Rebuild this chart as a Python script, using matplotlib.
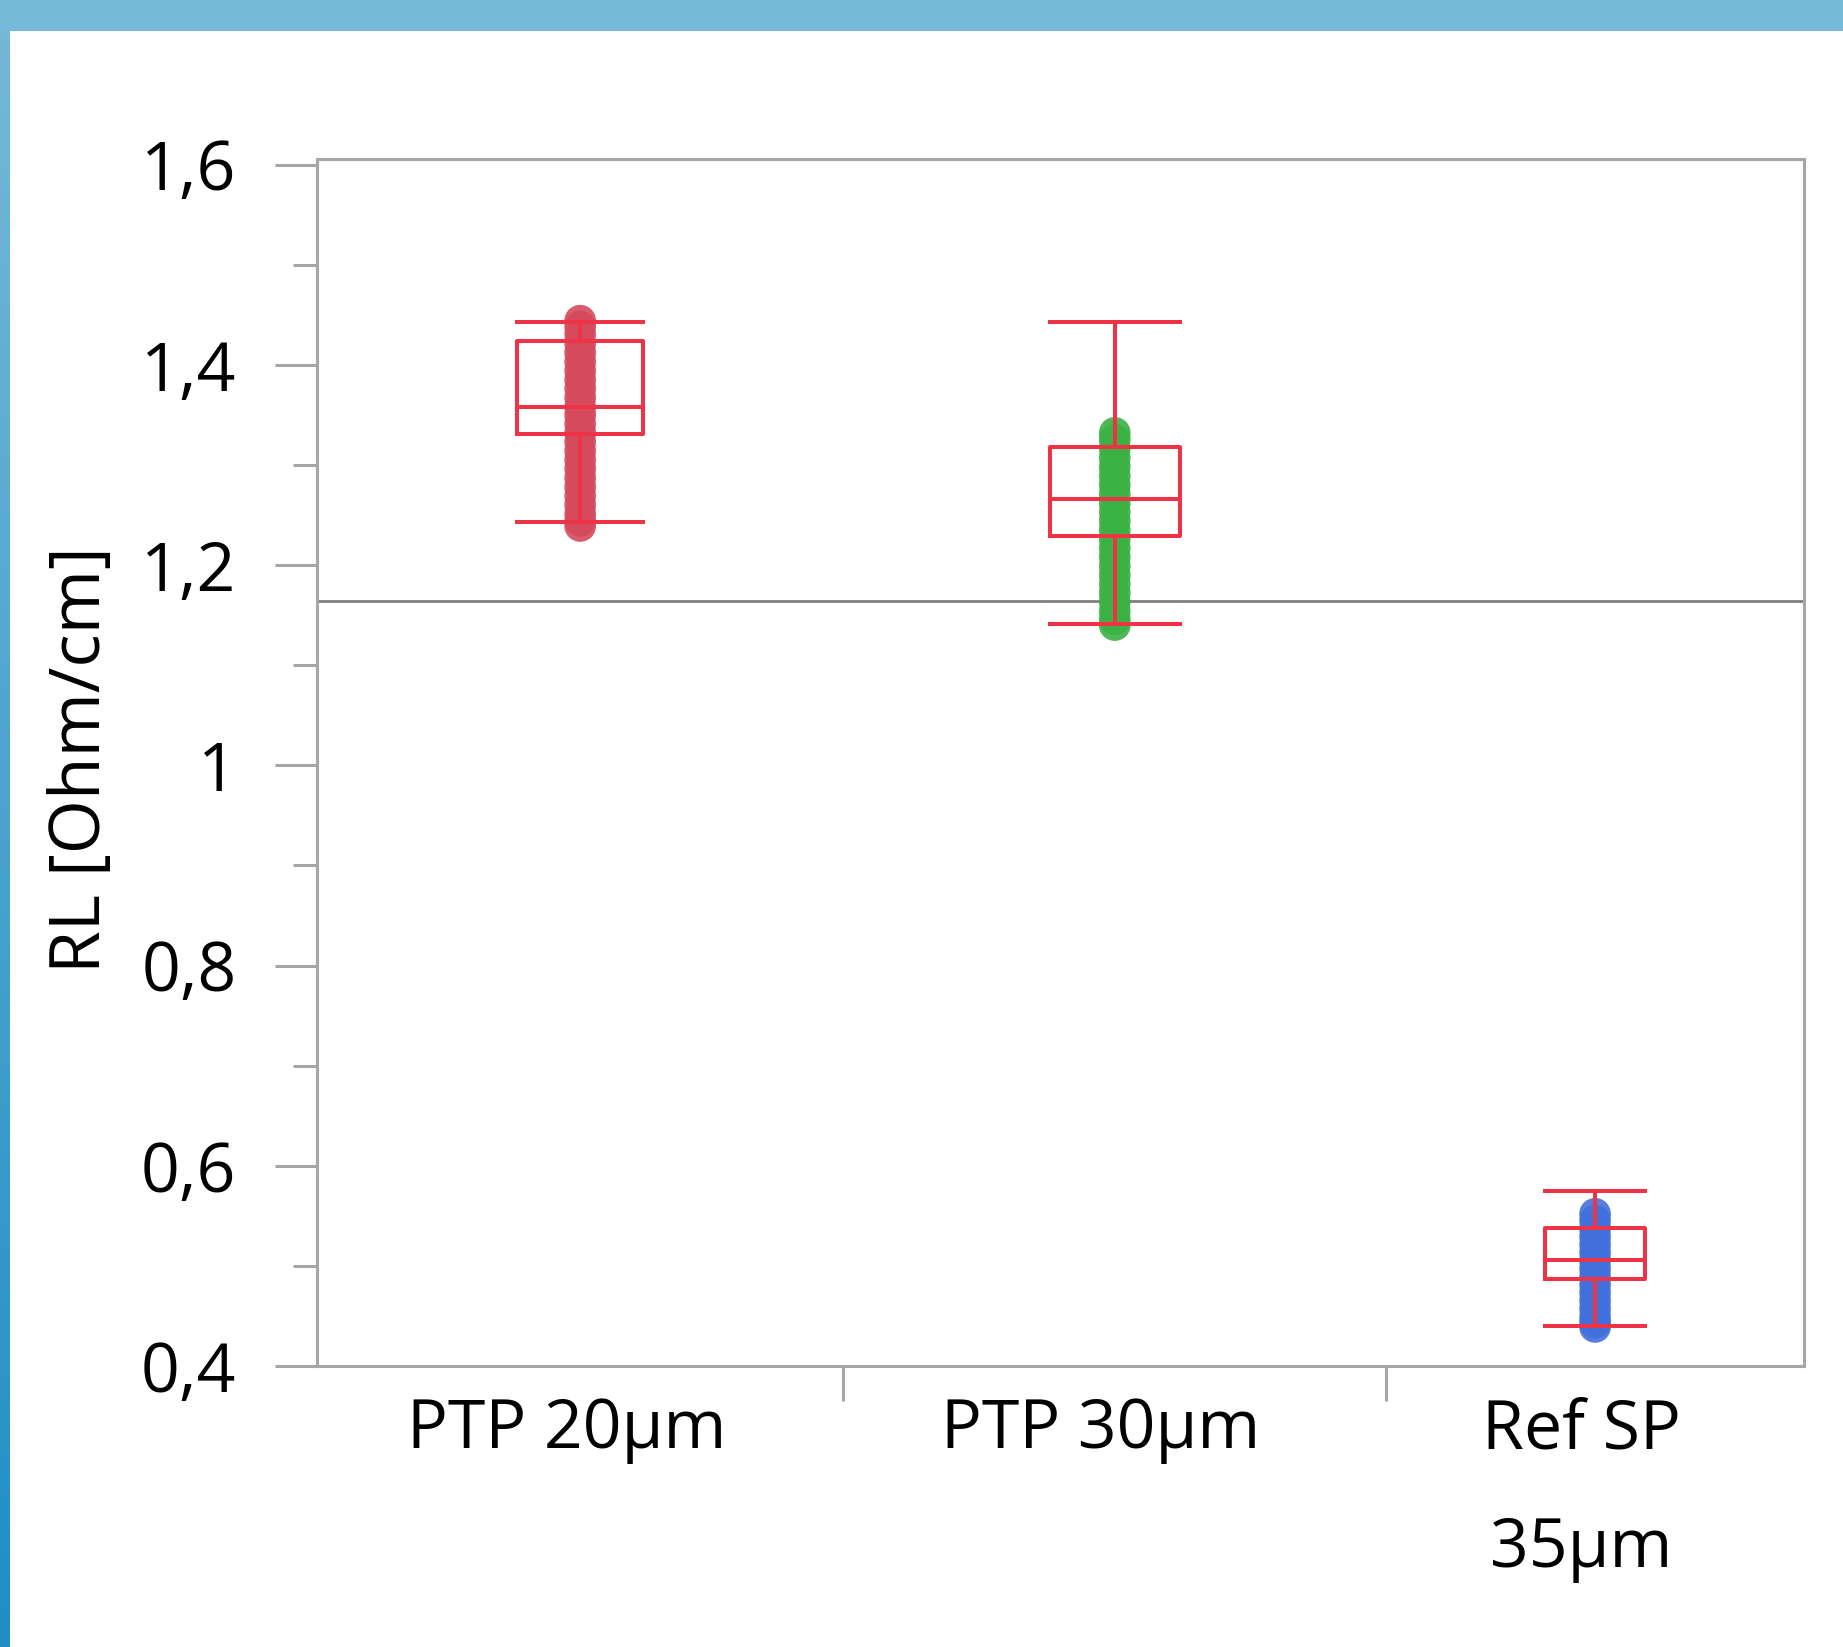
import numpy as np
import matplotlib
matplotlib.use("Agg")
import matplotlib.pyplot as plt
from matplotlib.colors import LinearSegmentedColormap
from matplotlib.transforms import ScaledTranslation

plt.rcParams['font.family'] = ['Open Sans', 'DejaVu Sans']

# Données
categories = ["PTP 20µm", "PTP 30µm", "Ref SP\n35µm"]

pts_20 = [1.444, 1.438, 1.430, 1.421, 1.412, 1.403, 1.394, 1.385, 1.376, 1.367,
          1.358, 1.350, 1.341, 1.332, 1.323, 1.314, 1.305, 1.296, 1.287, 1.278,
          1.269, 1.260, 1.251, 1.244, 1.239]
pts_30 = [1.332, 1.325, 1.316, 1.307, 1.298, 1.289, 1.280, 1.271, 1.262, 1.253,
          1.244, 1.235, 1.226, 1.217, 1.208, 1.199, 1.190, 1.181, 1.172, 1.163,
          1.154, 1.146, 1.140]
pts_ref = [0.552, 0.545, 0.537, 0.529, 0.521, 0.513, 0.505, 0.497, 0.489, 0.481,
           0.473, 0.465, 0.457, 0.449, 0.443, 0.439]

# statistiques des boîtes (min moustache, Q1, médiane, Q3, max moustache)
whis_lo = [1.243, 1.141, 0.440]
q1 = [1.331, 1.229, 0.487]
med = [1.358, 1.266, 0.506]
q3 = [1.424, 1.318, 0.538]
whis_hi = [1.443, 1.443, 0.575]

ref_line = 1.164

yticks_major = [0.4, 0.6, 0.8, 1.0, 1.2, 1.4, 1.6]
ytick_labels = ["0,4", "0,6", "0,8", "1", "1,2", "1,4", "1,6"]
yticks_minor = [0.5, 0.7, 0.9, 1.1, 1.3, 1.5]

# mise en page
W, H = 1843, 1647
group_span = [0.354, 0.365, 0.281]   # largeur relative de chaque groupe
box_frac = 0.24
point_colors = ["#d54a5d", "#3bb143", "#4170dc"]
box_color = "#ef3346"
axis_gray = "#a6a6a6"

fig = plt.figure(figsize=(W / 100, H / 100), dpi=100)
fig.patch.set_facecolor("white")

# cadre bleu (bande du haut + bande à gauche en dégradé)
top_band = fig.add_axes([0, 1 - 31 / H, 1, 31 / H])
top_band.set_axis_off()
top_band.add_patch(plt.Rectangle((0, 0), 1, 1, color="#76b9d9", transform=top_band.transAxes))
left_band = fig.add_axes([0, 0, 10 / W, 1 - 31 / H])
left_band.set_axis_off()
cmap = LinearSegmentedColormap.from_list("band", ["#74b8d8", "#1f8ec4"])
left_band.imshow(np.linspace(0, 1, 256).reshape(-1, 1), aspect="auto", cmap=cmap,
                 extent=[0, 1, 0, 1])

ax = fig.add_axes([317 / W, 1 - 1366 / H, (1804 - 317) / W, (1366 - 159) / H])

edges = np.concatenate([[0], np.cumsum(group_span)])
centers = (edges[:-1] + edges[1:]) / 2
widths = np.array(group_span) * box_frac

# points
for i, pts in enumerate([pts_20, pts_30, pts_ref]):
    ax.scatter(np.full(len(pts), centers[i]), pts, s=520, color=point_colors[i],
               alpha=0.9, edgecolors="none", zorder=2)

# boîtes
stats = []
for i in range(len(categories)):
    stats.append({"med": med[i], "q1": q1[i], "q3": q3[i],
                  "whislo": whis_lo[i], "whishi": whis_hi[i], "fliers": []})
lp = dict(color=box_color, linewidth=2.9)
ax.bxp(stats, positions=centers, widths=widths, capwidths=widths, showfliers=False,
       boxprops=lp, whiskerprops=lp, capprops=lp, medianprops=lp, zorder=3)

ax.axhline(ref_line, color="#7f7f7f", linewidth=2.0, zorder=1)

ax.set_xlim(0, 1)
ax.set_ylim(0.4, 1.6055)

ax.set_yticks(yticks_major)
ax.set_yticklabels(ytick_labels, fontsize=49)
ax.set_yticks(yticks_minor, minor=True)
ax.tick_params(axis="y", which="major", length=30, width=2.2, color=axis_gray, pad=28)
ax.tick_params(axis="y", which="minor", length=17, width=2.2, color=axis_gray)

ax.set_xticks(centers)
ax.set_xticklabels(categories, fontsize=49, linespacing=2.0)
ax.set_xticks(edges[1:-1], minor=True)
ax.tick_params(axis="x", which="major", length=0, pad=22)
ax.tick_params(axis="x", which="minor", length=25, width=2.2, color=axis_gray)
shift = ScaledTranslation(-14 / 100, 0, fig.dpi_scale_trans)
for lab in ax.get_xticklabels():
    lab.set_transform(lab.get_transform() + shift)

for sp in ax.spines.values():
    sp.set_color(axis_gray)
    sp.set_linewidth(2.2)

fig.text(82 / W, 1 - 760 / H, "RL [Ohm/cm]", rotation=90, ha="center", va="center",
         fontsize=50)

fig.savefig("out.png", dpi=100)
